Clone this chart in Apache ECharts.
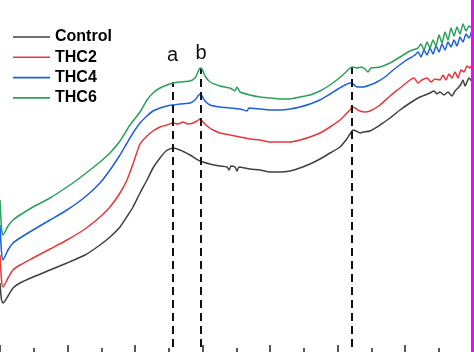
<!DOCTYPE html>
<html>
<head>
<meta charset="utf-8">
<script src="https://cdn.jsdelivr.net/npm/echarts@6/dist/echarts.min.js"></script>
<style>
  html, body { margin: 0; padding: 0; background: #fff; overflow: hidden; }
  #chart { width: 474px; height: 352px; }
</style>
</head>
<body>
<div id="chart"></div>
<script>
// spectra, [x, intensity (a.u.)]
const seriesNames = ['Control', 'THC2', 'THC4', 'THC6']

const controlData = [
  [0, 69], [1.5, 52], [3, 49], [8, 56], [13, 64], [20, 69], [33, 75], [50, 82], [67, 89],
  [85, 97], [100, 107], [110, 115], [120, 125], [128, 137], [133, 145], [140, 159],
  [147, 172], [153, 184], [160, 194], [166, 201], [173, 204], [180, 202], [190, 197],
  [200, 191], [210, 188], [220, 186], [227, 185], [229, 182], [231, 186], [235, 185],
  [237, 181], [239, 185], [250, 183], [260, 182], [270, 180], [280, 180], [290, 181],
  [300, 184], [310, 188], [320, 193], [330, 199], [340, 205], [346, 212], [350, 218],
  [353, 222], [356, 221], [360, 219], [363, 220], [370, 221], [380, 227], [390, 234],
  [400, 242], [410, 249], [420, 255], [430, 259], [434, 261], [437, 258], [440, 260],
  [444, 257], [448, 260], [452, 256], [455, 261], [458, 264], [461, 268], [463, 272],
  [465, 266], [467, 270], [469, 274], [472, 270]
]

const thc2Data = [
  [0, 97], [1.5, 72], [3, 65], [8, 74], [13, 82], [20, 87], [33, 94], [50, 103], [67, 112],
  [85, 123], [100, 135], [110, 145], [120, 159], [127, 172], [133, 188], [140, 208],
  [147, 216], [153, 221], [160, 225], [167, 227], [173, 229], [178, 228], [183, 230],
  [188, 228], [193, 229], [197, 231], [200, 233], [203, 230], [207, 226], [213, 222],
  [220, 219], [230, 217], [240, 215], [250, 213], [260, 212], [270, 210], [280, 210],
  [290, 210], [300, 212], [310, 215], [320, 219], [330, 225], [340, 232], [346, 238],
  [350, 242], [352, 245], [355, 244], [360, 241], [365, 240], [370, 241], [380, 247],
  [390, 256], [400, 264], [405, 268], [410, 272], [414, 274], [418, 269], [422, 272],
  [427, 274], [431, 270], [435, 273], [440, 272], [443, 277], [446, 272], [449, 278],
  [452, 274], [455, 280], [458, 274], [461, 282], [464, 280], [467, 286], [470, 284],
  [472, 288]
]

const thc4Data = [
  [0, 127], [1.5, 100], [3, 92], [8, 102], [13, 109], [20, 114], [33, 122], [50, 132],
  [67, 142], [85, 155], [100, 169], [110, 182], [120, 197], [127, 209], [133, 219],
  [140, 229], [147, 236], [153, 241], [160, 244], [167, 246], [173, 247], [180, 248],
  [190, 249], [195, 252], [198, 256], [200, 258], [202, 256], [205, 251], [210, 247],
  [220, 245], [230, 244], [240, 243], [247, 241], [249, 244], [260, 243], [270, 242],
  [280, 242], [290, 243], [300, 245], [310, 248], [320, 252], [330, 258], [338, 263],
  [345, 267], [350, 269], [353, 268], [357, 265], [363, 265], [370, 267], [377, 270],
  [385, 275], [392, 281], [397, 285], [405, 291], [410, 294], [415, 297], [418, 300],
  [421, 295], [424, 302], [427, 297], [430, 304], [433, 298], [436, 306], [439, 300],
  [442, 308], [445, 302], [448, 310], [451, 305], [454, 312], [457, 306], [460, 315],
  [463, 310], [466, 318], [469, 314], [472, 322]
]

const thc6Data = [
  [0, 152], [1.5, 124], [3, 117], [8, 126], [13, 132], [20, 137], [33, 145], [50, 154],
  [67, 165], [77, 172], [90, 182], [100, 190], [110, 199], [120, 211], [130, 227],
  [140, 240], [147, 252], [153, 259], [160, 264], [167, 267], [173, 269], [180, 270],
  [190, 271], [195, 274], [198, 280], [200, 284], [202, 283], [205, 276], [210, 270],
  [220, 266], [230, 264], [235, 261], [237, 265], [240, 260], [250, 257], [260, 255],
  [270, 254], [280, 253], [290, 253], [300, 255], [310, 257], [320, 261], [330, 267],
  [338, 273], [345, 279], [350, 284], [353, 285], [357, 284], [361, 285], [365, 283],
  [368, 280], [371, 284], [380, 285], [390, 289], [400, 295], [410, 301], [418, 304],
  [421, 308], [424, 302], [427, 310], [430, 304], [433, 312], [436, 306], [439, 317],
  [442, 309], [445, 320], [448, 312], [451, 324], [454, 316], [457, 325], [460, 318],
  [463, 328], [466, 321], [469, 326], [472, 324]
]

// dashed reference lines
const peakX = [172.5, 201, 352]
const peakTop = [270, 284, 285]
const peakLabels = ['a', 'b', '']
const peakLabelGap = [17, 5, 0]

const colors = ['#404040', '#e5383b', '#1e5fdc', '#2e9e5b']
const allData = [controlData, thc2Data, thc4Data, thc6Data]

const chart = echarts.init(document.getElementById('chart'))

const peakLines = peakX.map((x, i) => [
  {
    coord: [x, 5],
    name: peakLabels[i],
    label: { show: peakLabels[i] !== '', distance: peakLabelGap[i] }
  },
  { coord: [x, peakTop[i]] }
])

chart.setOption({
  animation: false,
  backgroundColor: '#fff',
  grid: { left: 0, right: 1.5, top: 0, bottom: 0 },
  // grey edge of the cropped figure frame
  graphic: [{
    type: 'rect',
    left: 471,
    top: 0,
    silent: true,
    z: 100,
    shape: { width: 3, height: 352 },
    style: { fill: '#ff00ff' }
  }],
  legend: {
    orient: 'vertical',
    left: 8,
    top: 24,
    icon: 'rect',
    itemWidth: 37,
    itemHeight: 1.6,
    itemGap: 4.3,
    data: seriesNames,
    textStyle: {
      fontFamily: 'Liberation Sans, Arial, sans-serif',
      fontWeight: 'bold',
      fontSize: 16,
      lineHeight: 16,
      color: '#000',
      padding: [0, 0, 0, 0]
    }
  },
  xAxis: {
    type: 'value',
    min: 0,
    max: 472.5,
    interval: 67.5,
    axisLine: { show: false },
    axisLabel: { show: false },
    splitLine: { show: false },
    axisTick: { show: true, inside: true, length: 7, lineStyle: { color: '#222', width: 1.5 } },
    minorTick: { show: true, splitNumber: 2, length: 4, lineStyle: { color: '#222', width: 1.5 } }
  },
  yAxis: {
    type: 'value',
    min: 0,
    max: 352,
    axisLine: { show: false },
    axisTick: { show: false },
    axisLabel: { show: false },
    splitLine: { show: false }
  },
  series: seriesNames.map((name, i) => ({
    name,
    type: 'line',
    data: allData[i],
    symbol: 'none',
    smooth: 0.2,
    color: colors[i],
    lineStyle: { color: colors[i], width: 1.5 },
    z: 2 + i,
    markLine: i === 0 ? {
      silent: true,
      symbol: ['none', 'none'],
      lineStyle: { color: '#111', width: 2, type: [8, 5] },
      label: {
        position: 'end',
        formatter: '{b}',
        color: '#111',
        fontSize: 20,
        fontFamily: 'Liberation Sans, Arial, sans-serif'
      },
      data: peakLines
    } : undefined
  }))
})
</script>
</body>
</html>
